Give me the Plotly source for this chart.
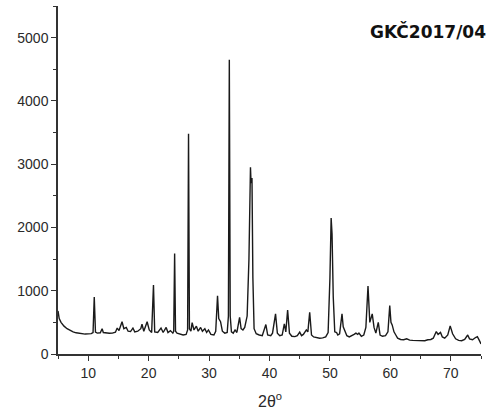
import plotly.graph_objects as go

two_theta = [
    5.0, 5.2, 5.5, 6.0, 6.5, 7.0, 7.5, 8.0, 8.5, 9.0, 9.5, 10.0, 10.5, 10.8, 11.0, 11.2, 11.5,
    12.0, 12.3, 12.5, 13.0, 13.5, 14.0, 14.5, 14.8, 15.1, 15.6, 15.9, 16.3, 16.6, 17.0, 17.4,
    17.7, 18.2, 18.7, 18.9, 19.2, 19.75, 20.1, 20.5, 20.8, 21.0, 21.5, 22.05, 22.4, 22.9, 23.2,
    23.6, 24.0, 24.15, 24.3, 24.45, 24.7, 25.2, 25.7, 26.2, 26.45, 26.6, 26.75, 27.0, 27.2,
    27.5, 27.9, 28.2, 28.6, 28.9, 29.3, 29.6, 29.9, 30.3, 30.8, 31.1, 31.4, 31.6, 31.9, 32.2,
    32.6, 33.0, 33.2, 33.35, 33.5, 33.7, 34.0, 34.3, 34.6, 35.05, 35.3, 35.6, 35.9, 36.3,
    36.6, 36.85, 36.95, 37.1, 37.25, 37.45, 37.8, 38.3, 38.8, 39.4, 39.7, 40.2, 40.5, 41.0,
    41.3, 41.7, 42.1, 42.45, 42.7, 43.0, 43.3, 43.7, 44.2, 44.6, 45.0, 45.3, 45.6, 46.1,
    46.35, 46.65, 46.95, 47.3, 47.8, 48.3, 48.8, 49.3, 49.7, 50.0, 50.2, 50.35, 50.55, 50.8,
    51.1, 51.3, 51.6, 52.0, 52.2, 52.45, 52.8, 53.2, 53.6, 54.0, 54.3, 54.6, 54.8, 55.2,
    55.6, 55.95, 56.3, 56.6, 57.0, 57.3, 57.6, 58.0, 58.3, 58.7, 59.2, 59.6, 59.9, 60.1,
    60.3, 60.6, 60.9, 61.2, 61.7, 62.2, 62.7, 63.2, 63.7, 64.2, 64.7, 65.2, 65.7, 66.2,
    66.7, 67.1, 67.6, 67.9, 68.3, 68.6, 69.0, 69.5, 69.9, 70.3, 70.8, 71.3, 71.8, 72.3,
    72.8, 73.1, 73.6, 74.1, 74.4, 74.7, 75.0,
]
intensity = [
    680, 560, 500, 440, 400, 370, 350, 335, 325, 318, 315, 318, 322, 340, 900, 345, 330,
    335, 400, 340, 330, 328, 330, 345, 410, 370, 510, 400, 420, 360, 355, 410,
    350, 360, 400, 470, 360, 510, 380, 340, 1090, 350, 340, 410, 340, 420, 340,
    370, 330, 360, 1590, 360, 330, 310, 300, 310, 380, 3480, 400, 360, 495,
    380, 440, 360, 420, 360, 400, 340, 380, 310, 300, 360, 920, 560, 510, 360,
    330, 340, 600, 4650, 600, 350, 330, 380, 340, 580, 400, 380, 420, 600,
    1500, 2950, 2700, 2780, 1200, 400, 320, 300, 290, 465, 300, 290, 330, 635,
    330, 290, 300, 475, 350, 695, 330, 280, 275, 290, 345, 290, 310, 380,
    350, 660, 300, 270, 255, 250, 255, 270, 340, 1200, 2150, 1900, 900, 350,
    340, 300, 320, 635, 430, 380, 290, 270, 285, 310, 330, 310, 330, 280,
    300, 420, 1075, 500, 635, 420, 330, 500, 300, 280, 290, 350, 765, 500,
    460, 350, 300, 250, 230, 225, 240, 220, 215, 215, 210, 215, 210, 225,
    230, 250, 355, 310, 340, 270, 250, 300, 445, 320, 240, 215, 210, 230,
    300, 240, 225, 260, 275, 220, 160,
]

x_ticks = [10, 20, 30, 40, 50, 60, 70]
y_ticks = [0, 1000, 2000, 3000, 4000, 5000]
sample_label = "GKČ2017/04"
x_title = "2θ<sup>o</sup>"

fig = go.Figure()
fig.add_trace(go.Scatter(
    x=two_theta, y=intensity, mode="lines",
    line=dict(color="#1a1a1a", width=1.4),
    hoverinfo="skip", showlegend=False,
))

axis_font = dict(family="Liberation Sans, Arial, sans-serif", size=14, color="#2a2a2a")

fig.update_layout(
    width=495, height=419,
    margin=dict(l=57.5, r=13.7, t=6, b=65),
    paper_bgcolor="white", plot_bgcolor="white",
    showlegend=False,
    xaxis=dict(
        range=[5, 75], tickvals=x_ticks, ticks="outside", ticklen=5, tickwidth=1.3,
        tickcolor="#333333", showline=True, linecolor="#333333", linewidth=1.5,
        showgrid=False, zeroline=False, tickfont=axis_font,
        minor=dict(dtick=5, tick0=5, ticks="outside", ticklen=3, tickcolor="#333333", showgrid=False),
    ),
    yaxis=dict(
        range=[0, 5500], tickvals=y_ticks, ticks="outside", ticklen=5, tickwidth=1.3,
        tickcolor="#333333", showline=True, linecolor="#333333", linewidth=1.5,
        showgrid=False, zeroline=False, tickfont=axis_font,
        minor=dict(dtick=500, tick0=0, ticks="outside", ticklen=3, tickcolor="#333333", showgrid=False),
    ),
    annotations=[
        dict(text="<b>" + sample_label + "</b>", xref="paper", yref="paper",
             x=1.017, y=0.927, xanchor="right", yanchor="middle", showarrow=False,
             font=dict(family="DejaVu Sans", size=17, color="#111111")),
        dict(text=x_title, xref="paper", yref="paper", x=0.5, y=0, yshift=-46,
             xanchor="center", yanchor="middle", showarrow=False,
             font=dict(family="Liberation Sans, Arial, sans-serif", size=16, color="#2a2a2a")),
    ],
)

fig.write_html("out.html", config={"displayModeBar": False},
               post_script="document.body.style.margin='0';")
